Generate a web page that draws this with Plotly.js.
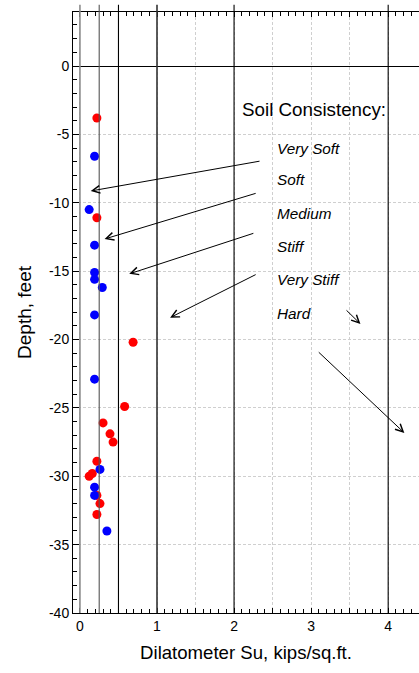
<!DOCTYPE html>
<html>
<head>
<meta charset="utf-8">
<script src="https://cdn.plot.ly/plotly-3.0.1.min.js"></script>
<style>html,body{margin:0;padding:0;background:#fff;}#chart{width:419px;height:673px;}</style>
</head>
<body>
<div id="chart"></div>
<script>
// Red series (Su, kips/sq.ft. vs depth, feet)
const redSu    = [0.22, 0.22, 0.69, 0.58, 0.30, 0.39, 0.43, 0.22, 0.16, 0.12, 0.22, 0.26, 0.22];
const redDepth = [-3.8, -11.1, -20.2, -24.9, -26.1, -26.9, -27.5, -28.9, -29.8, -30.0, -31.4, -32.0, -32.8];
// Blue series
const blueSu    = [0.19, 0.12, 0.19, 0.19, 0.19, 0.29, 0.19, 0.19, 0.26, 0.19, 0.19, 0.35];
const blueDepth = [-6.6, -10.5, -13.1, -15.1, -15.6, -16.2, -18.2, -22.9, -29.5, -30.8, -31.4, -34.0];

// Consistency boundary lines (Su values)
const boundaryLines  = [0, 0.25, 0.5, 1, 2, 4];
const boundaryColors = ['#8c8c8c', '#555555', '#000000', '#333333', '#000000', '#000000'];

// Axis ticks
const xTickVals  = [0, 0.5, 1, 1.5, 2, 2.5, 3, 3.5, 4];
const xTickText  = ['0', '', '1', '', '2', '', '3', '', '4'];
const yTickVals  = [0, -5, -10, -15, -20, -25, -30, -35, -40];
const yTickText  = ['0', '-5', '-10', '-15', '-20', '-25', '-30', '-35', '-40'];

// Legend-like labels
const consistencyTitle = 'Soil Consistency:';
const consistencyLabels = ['Very Soft', 'Soft', 'Medium', 'Stiff', 'Very Stiff', 'Hard'];
const labelX = 2.53;
const labelY = [-6.0, -8.33, -10.8, -13.2, -15.6, -18.1];
// Arrows: tail (from label) -> head (into zone)
const arrowTailX = [2.35, 2.30, 2.27, 2.30, 3.44, 3.08];
const arrowTailY = [-6.94, -9.28, -12.2, -15.2, -17.76, -20.83];
const arrowHeadX = [0.14, 0.32, 0.64, 1.17, 3.64, 4.21];
const arrowHeadY = [-9.14, -12.65, -15.2, -18.4, -18.86, -26.83];

const FONT = 'Liberation Sans, Arial, sans-serif';

const traces = [
  {x: redSu, y: redDepth, type: 'scatter', mode: 'markers',
   marker: {color: '#ff0000', size: 9}, showlegend: false, cliponaxis: false},
  {x: blueSu, y: blueDepth, type: 'scatter', mode: 'markers',
   marker: {color: '#0000ff', size: 9}, showlegend: false, cliponaxis: false}
];

const shapes = boundaryLines.map((v, i) => ({
  type: 'line', xref: 'x', yref: 'paper', x0: v, x1: v, y0: 0, y1: 1.012,
  line: {color: boundaryColors[i], width: (v === 0 || v === 1) ? 1.6 : 1.1},
  layer: 'above'
}));

const annotations = [];
annotations.push({
  text: consistencyTitle, x: 2.08, y: -3.2, xref: 'x', yref: 'y',
  xanchor: 'left', yanchor: 'middle', showarrow: false,
  font: {family: FONT, size: 18.8, color: '#000'}
});
consistencyLabels.forEach((t, i) => {
  annotations.push({
    text: '<i>' + t + '</i>', x: labelX, y: labelY[i], xref: 'x', yref: 'y',
    xanchor: 'left', yanchor: 'middle', showarrow: false,
    font: {family: FONT, size: 15.3, color: '#000'}
  });
});
arrowHeadX.forEach((hx, i) => {
  annotations.push({
    text: '', x: hx, y: arrowHeadY[i], ax: arrowTailX[i], ay: arrowTailY[i],
    xref: 'x', yref: 'y', axref: 'x', ayref: 'y',
    showarrow: true, arrowhead: 5, arrowsize: 1.5, arrowwidth: 1,
    arrowcolor: '#000', standoff: 0, startstandoff: 0
  });
});

const layout = {
  width: 419, height: 673,
  margin: {l: 73, r: 0, t: 12, b: 60, pad: 0},
  paper_bgcolor: '#fff', plot_bgcolor: '#fff',
  font: {family: FONT, size: 14, color: '#000'},
  showlegend: false,
  xaxis: {
    range: [-0.09, 4.4], tickmode: 'array', tickvals: xTickVals, ticktext: xTickText,
    showline: true, linecolor: '#000', linewidth: 1, mirror: 'ticks',
    ticks: 'inside', ticklen: 5, tickcolor: '#000',
    showgrid: true, gridcolor: '#cfcfcf', griddash: '3px,2px', gridwidth: 1,
    zeroline: false,
    minor: {dtick: 0.1, tick0: 0, ticks: 'inside', ticklen: 4, tickcolor: '#000', showgrid: false},
    tickfont: {family: FONT, size: 14},
    title: {text: 'Dilatometer Su, kips/sq.ft.', font: {family: FONT, size: 18.6}, standoff: 13}
  },
  yaxis: {
    range: [-40, 3.95], tickmode: 'array', tickvals: yTickVals, ticktext: yTickText,
    showline: true, linecolor: '#000', linewidth: 1, mirror: false,
    ticks: 'inside', ticklen: 6, tickcolor: '#000',
    showgrid: true, gridcolor: '#cfcfcf', griddash: '3px,2px', gridwidth: 1,
    zeroline: true, zerolinecolor: '#000', zerolinewidth: 1,
    minor: {dtick: 1, tick0: 0, ticks: 'inside', ticklen: 4, tickcolor: '#000', showgrid: false},
    tickfont: {family: FONT, size: 14},
    title: {text: 'Depth, feet', font: {family: FONT, size: 19}, standoff: 12}
  },
  shapes: shapes,
  annotations: annotations
};

Plotly.newPlot('chart', traces, layout, {staticPlot: true, displayModeBar: false});
</script>
</body>
</html>
